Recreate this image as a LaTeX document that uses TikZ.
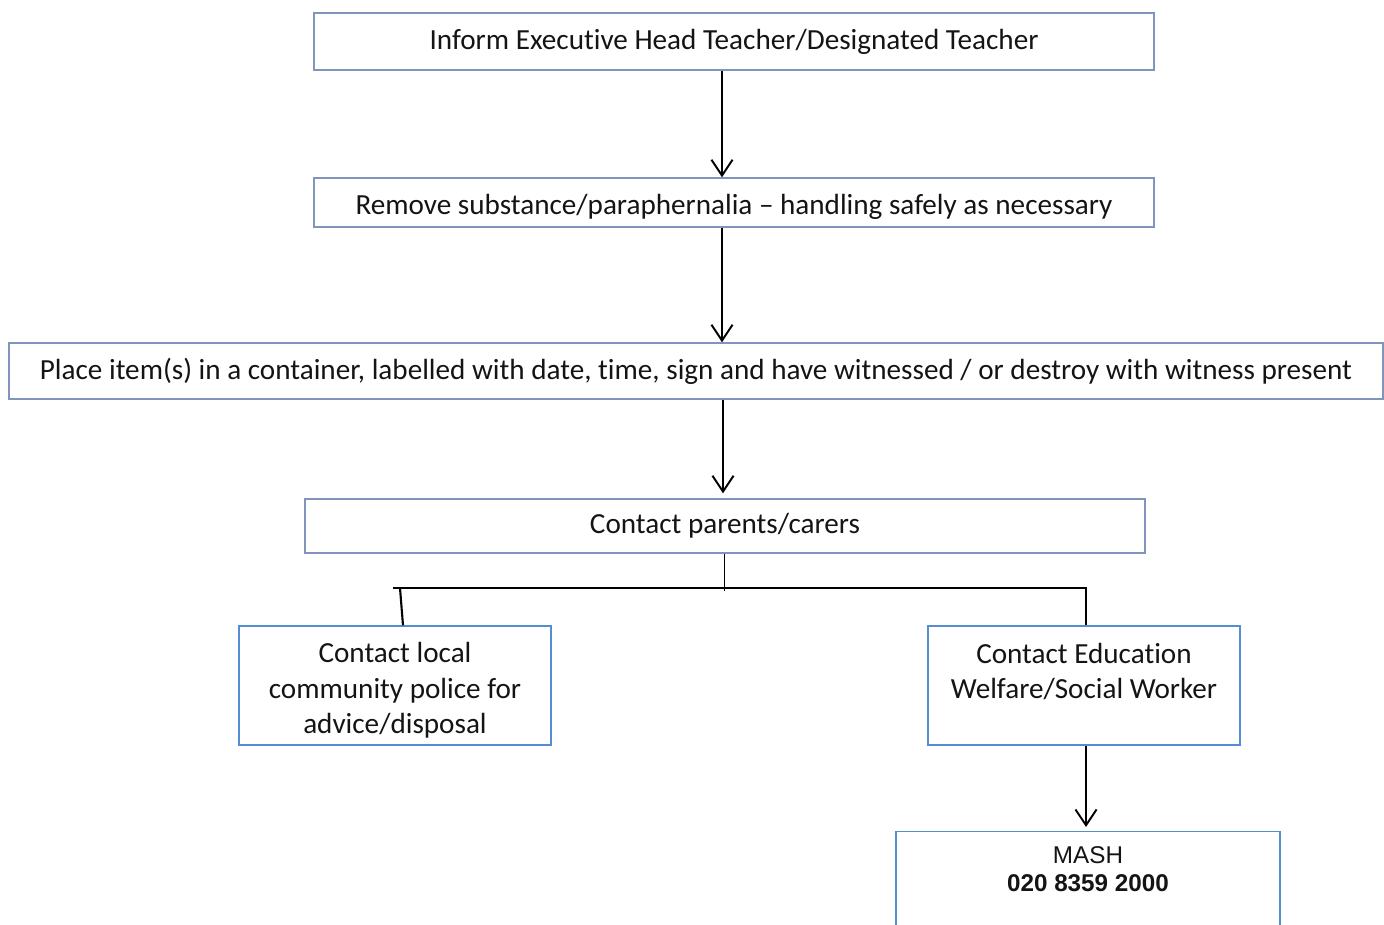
\documentclass[tikz,border=0pt]{standalone}
\usepackage{fontspec}
\setmainfont[Ligatures=NoCommon]{Carlito}
\newfontfamily\arialfont{Liberation Sans}
\usetikzlibrary{arrows.meta, positioning, calc}
\definecolor{FlowGrey}{RGB}{128,148,188}
\definecolor{FlowBlue}{RGB}{84,141,212}
\definecolor{FlowInk}{RGB}{20,20,20}
\tikzset{
  stepbox/.style={
    rectangle, draw=FlowGrey, line width=0.8pt,
    font=\fontsize{16.6}{20}\selectfont, text=FlowInk,
    align=center, inner sep=0pt
  },
  actbox/.style={
    rectangle, draw=FlowBlue, line width=0.8pt,
    minimum width=6.24cm, minimum height=2.38cm,
    font=\fontsize{16.6}{20.2}\selectfont, text=FlowInk,
    align=center, inner sep=0pt
  },
  arr/.style={-{Straight Barb[length=9pt,width=12pt]}, draw=black, line width=1.1pt},
  link/.style={draw=black, line width=0.8pt}
}

\begin{document}
\begin{tikzpicture}[x=0.02cm, y=-0.02cm]

  % Page frame
  \clip (0,0) rectangle (1384,925);
  \useasboundingbox (0,0) rectangle (1384,925);

  % Main column of steps
  \node[stepbox, minimum width=16.8cm, minimum height=1.14cm]
        (inform) at (734,41.5) {Inform Executive Head Teacher/Designated Teacher};
  \node[stepbox, minimum width=16.8cm, minimum height=0.98cm,
        text height=0.5cm, text depth=0pt]
        (remove) at (734,202.5) {Remove substance/paraphernalia -- handling safely as necessary};
  \node[stepbox, minimum width=27.48cm, minimum height=1.12cm]
        (place) at (696,371) {Place item(s) in a container, labelled with date, time, sign and have witnessed / or destroy with witness present};
  \node[stepbox, minimum width=16.8cm, minimum height=1.08cm]
        (parents) at (725,526) {Contact parents/carers};

  % Branches
  \node[actbox] (police) at (395,685.5)
        {\rule{0pt}{17.4pt}Contact local\\community police for\\advice/disposal};
  \node[actbox] (welfare) at (1084,685.5)
        {\rule{0pt}{15pt}Contact Education\\Welfare/Social Worker\\\mbox{}};
  \node[rectangle, draw=FlowBlue, line width=0.8pt, minimum width=7.68cm,
        anchor=north, align=center, inner xsep=0pt, inner ysep=0.3cm, text=FlowInk,
        font=\arialfont\fontsize{13.8}{15.9}\selectfont]
        (mash) at (1088,831) {MASH\\\textbf{020 8359 2000}\\[2.4cm]\mbox{}};

  % Spine and junction points
  \coordinate (spine) at (722,0);
  \coordinate (spine3) at (723,0);
  \coordinate (tee) at (724,591);
  \coordinate (hl) at (393,588);
  \coordinate (hr) at (1087,588);
  \coordinate (legl) at (400,588);
  \coordinate (legr) at (1086,588);

  % Arrows down the column
  \draw[arr] (inform.south -| spine) -- (remove.north -| spine);
  \draw[arr] (remove.south -| spine) -- (place.north -| spine);
  \draw[arr, shorten >=0.1cm] (place.south -| spine3) -- (parents.north -| spine3);

  % Split to the two branches
  \draw[link, line width=0.5pt] (parents.south -| tee) -- (tee);
  \draw[link] (hl) -- (hr);
  \draw[link, line width=1.2pt] (legl) -- ([xshift=0.16cm]police.north);
  \draw[link, line width=1.1pt] (legr) -- (welfare.north -| legr);
  \draw[arr, shorten >=0.08cm] (welfare.south -| legr) -- (mash.north -| legr);
\end{tikzpicture}
\end{document}
